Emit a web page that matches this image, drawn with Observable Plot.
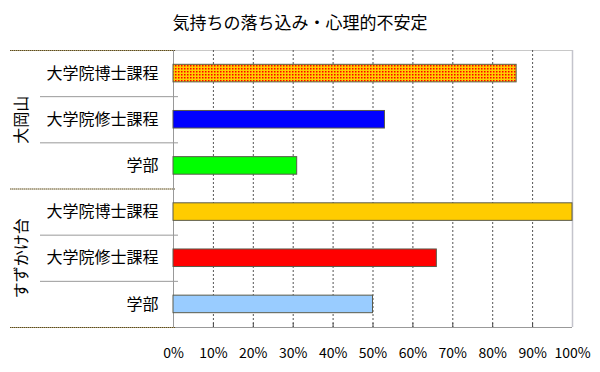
<!DOCTYPE html>
<html>
<head>
<meta charset="utf-8">
<script src="https://cdn.jsdelivr.net/npm/d3@7"></script>
<script src="https://cdn.jsdelivr.net/npm/@observablehq/plot@0.6"></script>
<style>
  body { margin: 0; background: #fff; }
  #title { width: 600px; height: 40px; line-height: 44px; text-align: center;
           font-family: "Noto Sans CJK JP", sans-serif; font-size: 17px; color: #000; }
  svg { display: block; }
</style>
</head>
<body>
<div id="title">気持ちの落ち込み・心理的不安定</div>
<div id="chart"></div>
<script>
const groups = ["大岡山", "すずかけ台"];
const groupOfBar = ["大岡山", "大岡山", "大岡山", "すずかけ台", "すずかけ台", "すずかけ台"];
const categories = ["大学院博士課程", "大学院修士課程", "学部", "大学院博士課程", "大学院修士課程", "学部"];
const values = [86, 53, 31, 100, 66, 50];
const colors = ["url(#dots)", "#0000FF", "#00FF00", "#FFCC00", "#FF0000", "#99CCFF"];
const xTicks = [0, 10, 20, 30, 40, 50, 60, 70, 80, 90, 100];

const bars = categories.map((c, i) => ({i, group: groupOfBar[i], category: c, value: values[i], color: colors[i]}));
const groupLabels = groups.map(g => {
  const idx = bars.filter(b => b.group === g).map(b => b.i);
  return {group: g, pos: (d3.min(idx) + d3.max(idx) + 1) / 2};
});
const groupBounds = [0, ...groups.map(g => d3.max(bars.filter(b => b.group === g), b => b.i) + 1)];
const catBounds = bars.filter((b, k) => k > 0 && bars[k - 1].group === b.group).map(b => b.i);

const font = "Noto Sans CJK JP";
const plot = Plot.plot({
  width: 600,
  height: 332,
  marginTop: 10,
  marginBottom: 45,
  marginLeft: 173,
  marginRight: 28,
  style: {fontFamily: font, color: "#000", background: "#fff"},
  x: {domain: [0, 100], label: null},
  y: {domain: [0, bars.length], reverse: true, label: null},
  color: {type: "identity"},
  marks: [
    Plot.ruleY([0], {stroke: "#c8c8c8"}),
    Plot.ruleX(xTicks.filter(t => t > 0 && t < 100), {stroke: "#555", strokeDasharray: "2,2"}),
    Plot.ruleX(xTicks.filter(t => t > 0 && t < 100), {stroke: "#444", insetTop: 273}),
    Plot.ruleX([100], {stroke: "#c4c4cc", strokeWidth: 1.5}),
    Plot.ruleY([bars.length], {stroke: "#999"}),
    Plot.ruleY(catBounds, {stroke: "#999", insetLeft: -133, insetRight: 394}),
    Plot.ruleY(groupBounds, {stroke: "#5a4a20", strokeDasharray: "1,1", insetLeft: -163, insetRight: 397}),
    Plot.ruleY(groupBounds, {stroke: "#a89a70", strokeDasharray: "1,1", strokeDashoffset: 1, insetLeft: -163, insetRight: 397}),
    Plot.ruleX([0], {stroke: "#999"}),
    Plot.rectX(bars, {
      x1: 0, x2: "value",
      y1: d => d.i + 0.31, y2: d => d.i + 0.69,
      fill: "color", stroke: "#5a5a4a", strokeWidth: 1
    }),
    Plot.axisY({
      ticks: bars.map(b => b.i + 0.5),
      tickFormat: v => categories[Math.floor(v)],
      tickSize: 0, tickPadding: 15, fontSize: 16, fill: "#000", label: null
    }),
    Plot.text(groupLabels, {
      y: "pos", text: "group", rotate: -90, frameAnchor: "left", textAnchor: "middle", dx: -152,
      fontSize: 16, fill: "#000"
    }),
    Plot.axisX({
      ticks: xTicks, tickFormat: d => d + "%",
      tickSize: 0, tickPadding: 21, fontSize: 14, fill: "#000", label: null
    })
  ]
});

const ns = "http://www.w3.org/2000/svg";
const defs = document.createElementNS(ns, "defs");
defs.innerHTML = '<pattern id="dots" width="3" height="3" patternUnits="userSpaceOnUse">' +
  '<rect width="3" height="3" fill="#FFCC00"/><rect x="1" y="1" width="1.5" height="1.5" fill="#FF0000"/></pattern>';
plot.insertBefore(defs, plot.firstChild);
document.getElementById("chart").appendChild(plot);
</script>
</body>
</html>
